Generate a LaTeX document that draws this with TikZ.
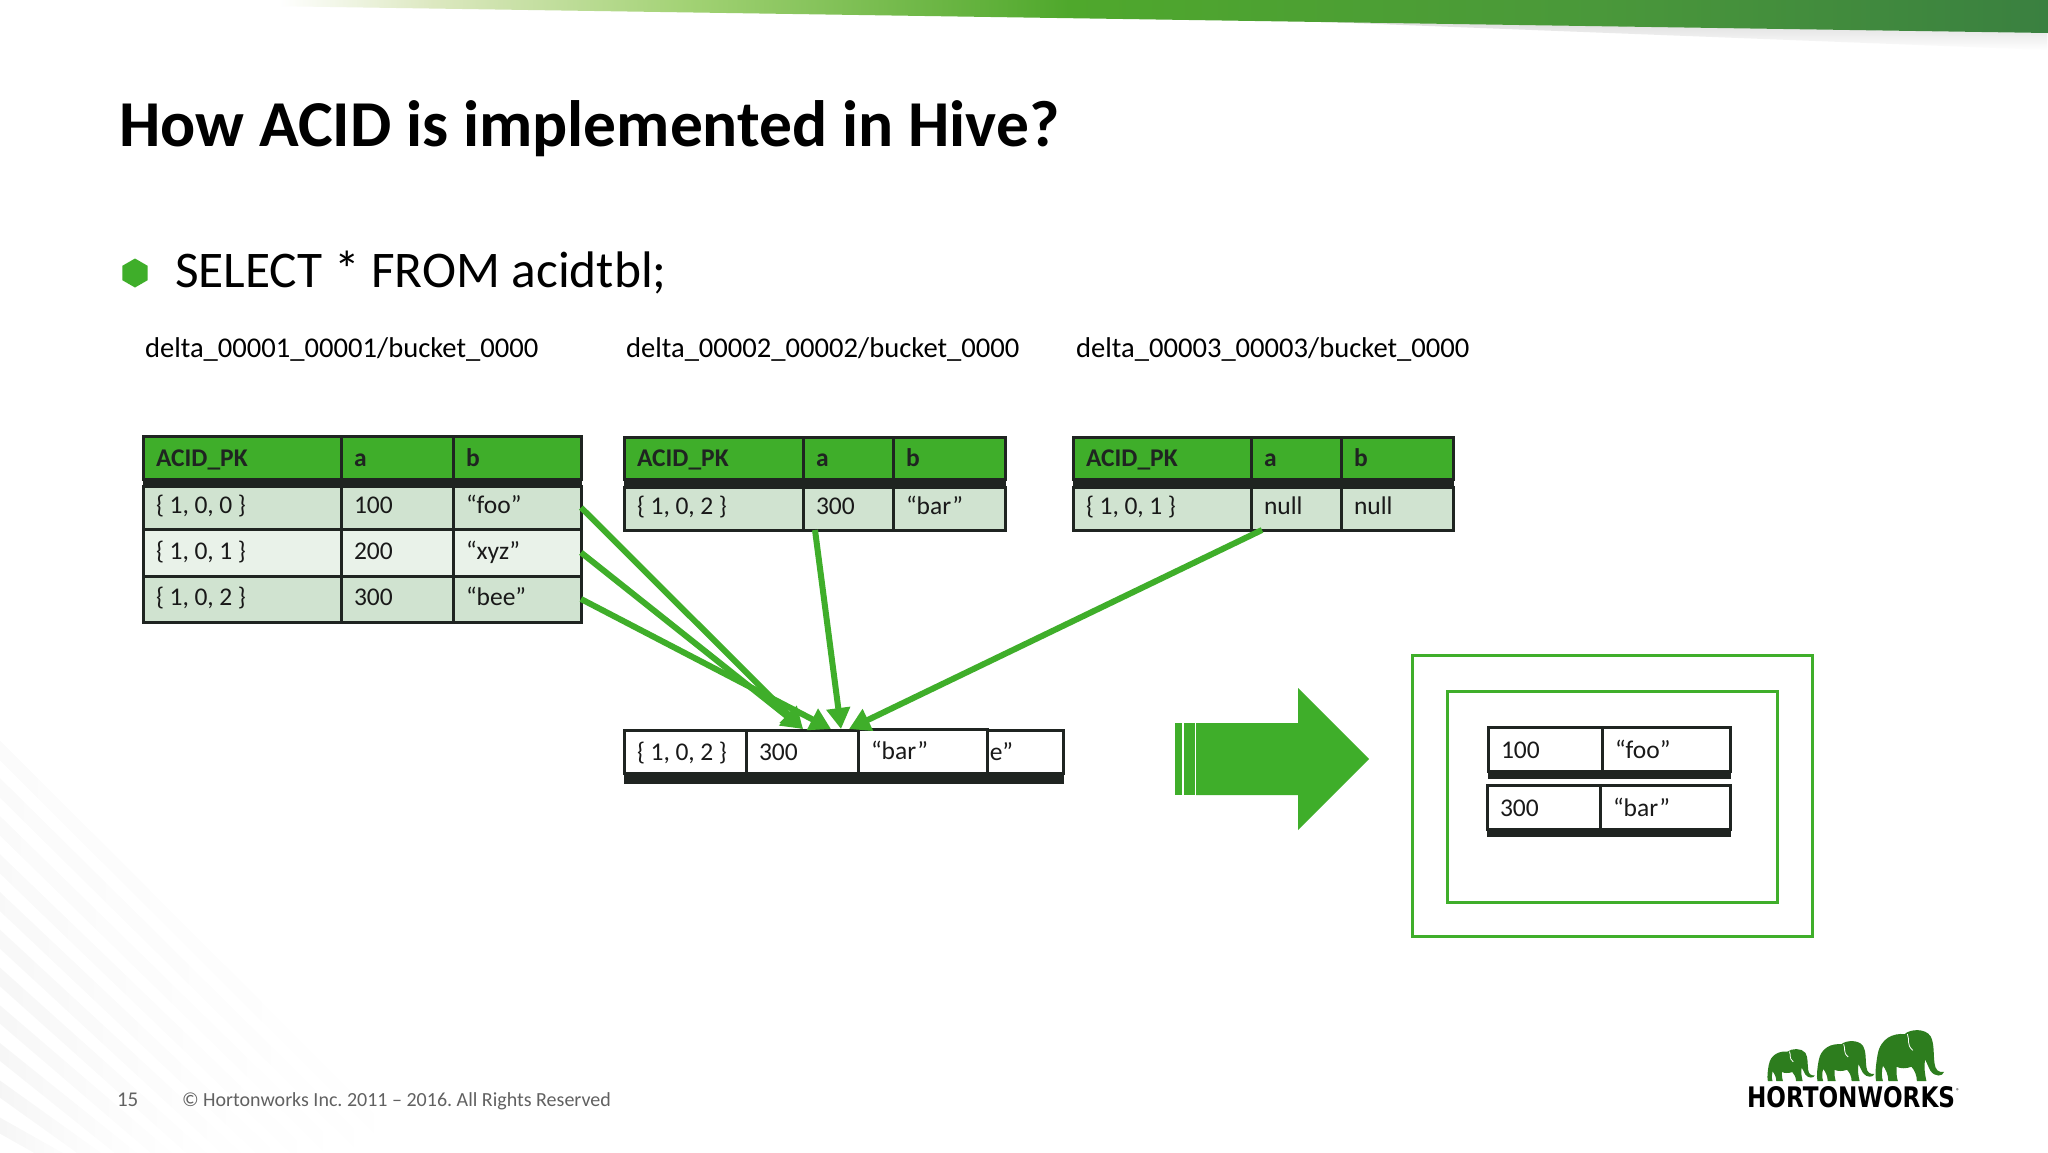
\documentclass[tikz,border=0pt]{standalone}
\usepackage{fontspec}
\usepackage{graphicx}
\setmainfont{Carlito}
\newfontfamily\logofont{DejaVu Sans}
\usetikzlibrary{arrows.meta,fadings,shapes.geometric}
\frenchspacing
\definecolor{hgreen}{HTML}{3FAE2A}
\definecolor{rowdark}{HTML}{D0E3D0}
\definecolor{rowlight}{HTML}{E9F2E9}
\definecolor{inkline}{HTML}{1F2421}
\definecolor{HTMLa}{HTML}{DCE8C0}
\definecolor{HTMLb}{HTML}{A2D274}
\definecolor{HTMLc}{HTML}{70B848}
\definecolor{HTMLd}{HTML}{4FA82C}
\definecolor{HTMLe}{HTML}{4A983A}
\definecolor{HTMLf}{HTML}{3A8040}
\pgfdeclarehorizontalshading{topbarshade}{100bp}{
 color(0bp)=(white); color(31.8bp)=(white); color(35.6bp)=(HTMLa); color(41.8bp)=(HTMLb);
 color(47.4bp)=(HTMLc); color(51.1bp)=(HTMLd); color(64bp)=(HTMLe); color(75bp)=(HTMLf); color(100bp)=(HTMLf)}
\tikzset{
  cellbox/.style={draw=inkline, line width=3pt, anchor=north west, inner ysep=0pt, inner xsep=13pt, outer sep=0pt,
     align=left, text height=18pt, text depth=5pt, font=\fontsize{25.5}{28}\selectfont\frenchspacing, text=black!90},
  headcell/.style={cellbox, fill=hgreen, font=\fontsize{25.5}{28}\selectfont\bfseries, text=inkline, text height=20pt, text depth=3pt},
  darkcell/.style={cellbox, fill=rowdark},
  upcell/.style={cellbox, fill=rowdark, text height=17pt, text depth=6pt},
  lightcell/.style={cellbox, fill=rowlight},
  whitecell/.style={cellbox, fill=white, text height=20pt, text depth=3pt},
  resultcell/.style={cellbox, fill=white, text height=22pt, text depth=3pt},
  thickbar/.style={fill=inkline, draw=inkline, line width=0.5pt},
  flowarrow/.style={draw=hgreen, line width=6pt, -{Triangle[length=21pt,width=23pt]}},
  slidetext/.style={anchor=base west, inner sep=0pt, outer sep=0pt},
  greenframe/.style={draw=hgreen, line width=3pt, fill=none, outer sep=0pt},
  elephantshape/.style={fill=hgreen!72!black},
}
% primary key text with the slide's narrow word gaps
\newcommand{\ckey}[3]{\mbox{\{\hspace{.22em}#1,\hspace{.22em}#2,\hspace{.22em}#3\hspace{.22em}\}}}
% cell: style, name, x0, y0, x1, y1, text
\newcommand{\tcell}[7]{%
  \pgfmathsetlengthmacro{\cw}{(#5)-(#3)}\pgfmathsetlengthmacro{\ch}{(#6)-(#4)}%
  \pgfmathsetlengthmacro{\ctw}{(#5)-(#3)-26}%
  \node[#1, minimum width=\cw, minimum height=\ch, text width=\ctw] (#2) at (#3,#4) {#7};}
\newcommand{\elephant}[4]{% x, y(top), w, h
  \begin{scope}[shift={(#1,#2)}, x=#3/100*1pt, y=-#4/100*1pt]
    \fill[elephantshape] (8,50) .. controls (12,15) and (32,6) .. (48,8)
      .. controls (56,-2) and (78,-4) .. (86,12)
      .. controls (92,26) and (90,48) .. (92,66)
      .. controls (93,78) and (98,84) .. (106,82)
      .. controls (104,92) and (92,92) .. (86,80)
      .. controls (82,70) and (80,62) .. (78,58)
      .. controls (76,72) and (78,88) .. (80,100)
      -- (66,100) .. controls (66,88) and (62,78) .. (58,72)
      .. controls (50,76) and (42,76) .. (36,72)
      .. controls (36,84) and (36,92) .. (38,100)
      -- (24,100) .. controls (24,88) and (20,76) .. (16,70)
      .. controls (14,80) and (14,92) .. (16,100)
      -- (6,100) .. controls (4,86) and (6,66) .. (8,50) -- cycle;
    \draw[white, line width=0.8pt] (52,8) .. controls (56,20) and (50,28) .. (60,40);
  \end{scope}}
\begin{document}
\begin{tikzpicture}[x=1pt,y=-1pt]
\useasboundingbox (0,0) rectangle (2048,1152);
\fill[white] (0,0) rectangle (2048,1152);
% background streaks in the lower-left corner
\begin{scope}
  \clip (0,700) rectangle (900,1152);
  \foreach \k/\op in {0/.016,1/.018,2/.02,3/.024,4/.028,5/.03,6/.034,7/.036,8/.04,9/.042,10/.044,11/.044}{
    \pgfmathsetmacro{\sy}{740+\k*38}
    \draw[black, opacity=\op, line width=14pt, path fading=east] (-10,\sy) -- ({-10+(1152-\sy)*0.9+60},1170);
  }
\end{scope}
% top bar
\fill[black!13, path fading=south] (1300,21) -- (2048,33) -- (2048,50) -- cycle;
\shade[shading=topbarshade] (0,0) -- (2048,0) -- (2048,33) -- (0,2) -- cycle;
% title and texts
\node[slidetext, font=\fontsize{65.5}{74}\selectfont\bfseries] (title) at (119,146) {How ACID is implemented in Hive?};
\node[regular polygon, regular polygon sides=6, shape border rotate=30, fill=hgreen, minimum size=29pt, inner sep=0pt] (bullet) at (135,273) {};
\node[slidetext, font=\fontsize{51.4}{60}\selectfont] (select) at (175,287) {SELECT * FROM acidtbl;};
\node[slidetext, font=\fontsize{28.6}{34}\selectfont] (lab1) at (145,357) {delta\_00001\_00001/bucket\_0000};
\node[slidetext, font=\fontsize{28.6}{34}\selectfont] (lab2) at (626,357) {delta\_00002\_00002/bucket\_0000};
\node[slidetext, font=\fontsize{28.6}{34}\selectfont] (lab3) at (1076,357) {delta\_00003\_00003/bucket\_0000};
% table 1
\tcell{headcell}{ah}{143}{436}{341}{479}{ACID\_PK}
\tcell{headcell}{bh}{341}{436}{453}{479}{a}
\tcell{headcell}{ch}{453}{436}{581}{479}{b}
\draw[thickbar] (ah.south west) rectangle ([yshift=-7pt]ch.south east);
\tcell{upcell}{ra}{143}{486}{341}{529}{\ckey{1}{0}{0}}
\tcell{upcell}{rb}{341}{486}{453}{529}{100}
\tcell{upcell}{rc}{453}{486}{581}{529}{“foo”}
\tcell{lightcell}{sa}{143}{529}{341}{576}{\ckey{1}{0}{1}}
\tcell{lightcell}{sb}{341}{529}{453}{576}{200}
\tcell{lightcell}{sc}{453}{529}{581}{576}{“xyz”}
\tcell{darkcell}{ta}{143}{576}{341}{622}{\ckey{1}{0}{2}}
\tcell{darkcell}{tb}{341}{576}{453}{622}{300}
\tcell{darkcell}{tc}{453}{576}{581}{622}{“bee”}
% table 2
\tcell{headcell}{bah}{624}{437}{803}{479}{ACID\_PK}
\tcell{headcell}{bbh}{803}{437}{893}{479}{a}
\tcell{headcell}{bch}{893}{437}{1005}{479}{b}
\draw[thickbar] (bah.south west) rectangle ([yshift=-8pt]bch.south east);
\tcell{upcell}{bra}{624}{487}{803}{530}{\ckey{1}{0}{2}}
\tcell{upcell}{brb}{803}{487}{893}{530}{300}
\tcell{upcell}{brc}{893}{487}{1005}{530}{“bar”}
% table 3
\tcell{headcell}{cah}{1073}{437}{1251}{479}{ACID\_PK}
\tcell{headcell}{cbh}{1251}{437}{1341}{479}{a}
\tcell{headcell}{cch}{1341}{437}{1453}{479}{b}
\draw[thickbar] (cah.south west) rectangle ([yshift=-8pt]cch.south east);
\tcell{upcell}{cra}{1073}{487}{1251}{530}{\ckey{1}{0}{1}}
\tcell{upcell}{crb}{1251}{487}{1341}{530}{null}
\tcell{upcell}{crc}{1341}{487}{1453}{530}{null}
% merged row
\tcell{whitecell}{mback}{940}{730}{1063}{773}{“bee”}
\tcell{whitecell}{ma}{624}{730}{746}{773}{\ckey{1}{0}{2}}
\tcell{whitecell}{mb}{746}{730}{858}{773}{300}
\tcell{whitecell, text height=19pt, text depth=3pt}{mc}{858}{729}{987}{773}{“bar”}
\draw[thickbar] (ma.south west) rectangle ([yshift=-10pt]mback.south east);
% connectors
\coordinate (from2) at (815,530);
\coordinate (from3) at (1262,530);
\coordinate (into1) at (803,729);
\coordinate (into2) at (831,729);
\coordinate (into3) at (841,729);
\coordinate (into4) at (849,729);
\draw[flowarrow] (rc.east) -- (into1);
\draw[flowarrow] (sc.east) -- (into1);
\draw[flowarrow] (tc.east) -- (into2);
\draw[flowarrow] (from2) -- (into3);
\draw[flowarrow] (from3) -- (into4);
% big arrow
\fill[hgreen] (1196,723) -- (1298,723) -- (1298,688) -- (1369,759) -- (1298,830) -- (1298,795) -- (1196,795) -- cycle;
\fill[hgreen] (1175,723) rectangle (1182,795);
\fill[hgreen] (1184,723) rectangle (1195,795);
% result frames
\node[greenframe, anchor=north west, minimum width=400pt, minimum height=281pt, inner sep=0pt] (outerframe) at (1412.5,655) {};
\node[greenframe, anchor=north west, minimum width=330pt, minimum height=211pt, inner sep=0pt] (innerframe) at (1447.5,691) {};
\tcell{resultcell}{oa}{1488}{727}{1602}{771}{100}
\tcell{resultcell}{ob}{1602}{727}{1730}{771}{“foo”}
\draw[thickbar] (oa.south west) rectangle ([yshift=-7pt]ob.south east);
\tcell{resultcell}{pa}{1487}{785}{1600}{829}{300}
\tcell{resultcell}{pb}{1600}{785}{1730}{829}{“bar”}
\draw[thickbar] (pa.south west) rectangle ([yshift=-7pt]pb.south east);
% footer
\node[slidetext, text=black!62, font=\fontsize{21}{25}\selectfont] (pagenum) at (117,1106) {15};
\node[slidetext, text=black!62, font=\fontsize{20}{24}\selectfont] (copyright) at (182,1106) {© Hortonworks Inc. 2011 – 2016. All Rights Reserved};
% logo
\elephant{1765}{1049}{47}{32}
\elephant{1814}{1041}{57}{40}
\elephant{1872}{1030}{68}{51}
\node[anchor=north west, inner sep=0pt, outer sep=0pt] (logotext) at (1747,1086) {\resizebox{208pt}{21pt}{\logofont\bfseries HORTONWORKS}};
\node[slidetext, font=\fontsize{7}{8}\selectfont] (logomark) at (1956,1093) {®};
\end{tikzpicture}
\end{document}
